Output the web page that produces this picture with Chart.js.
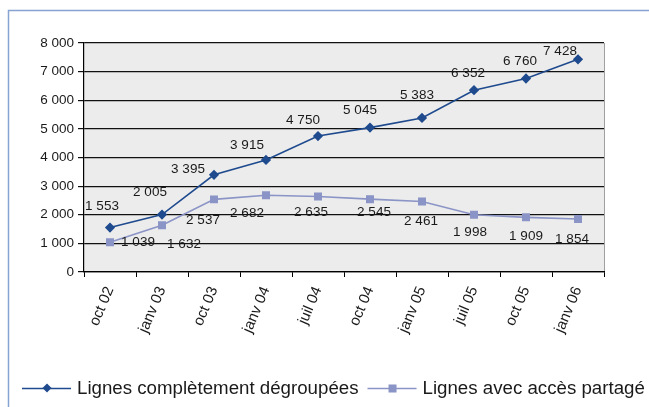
<!DOCTYPE html>
<html>
<head>
<meta charset="utf-8">
<script src="https://cdn.jsdelivr.net/npm/chart.js@4/dist/chart.umd.min.js"></script>
<style>
html,body{margin:0;padding:0;background:#fff;}
#wrap{position:relative;width:649px;height:407px;}
</style>
</head>
<body>
<div id="wrap"><canvas id="c" width="649" height="407"></canvas></div>
<script>
const categories = ['oct 02','janv 03','oct 03','janv 04','juil 04','oct 04','janv 05','juil 05','oct 05','janv 06'];
const degroupees = [1553, 2005, 3395, 3915, 4750, 5045, 5383, 6352, 6760, 7428];
const partage = [1039, 1632, 2537, 2682, 2635, 2545, 2461, 1998, 1909, 1854];
const yTicks = [0, 1000, 2000, 3000, 4000, 5000, 6000, 7000, 8000];
const seriesNames = ['Lignes complètement dégroupées', 'Lignes avec accès partagé'];

// label placement relative to each point (pixels)
const labelOffsets = [
  [[-8,-21],[-12,-22],[-26,-6],[-19,-15],[-15,-16],[-10,-17],[-5,-23],[-6,-17],[-6,-17],[-18,-8]],
  [[28,0],[22,19],[-11,21],[-19,18],[-7,16],[4,13],[-1,20],[-4,17],[0,19],[-6,20]]
];

const fmt = v => String(v).replace(/\B(?=(\d{3})+(?!\d))/g, ' ');
const FONT = '"Liberation Sans", Arial, sans-serif';
const C1 = '#1f4b8e';
const C2 = '#8a94c6';

const framePlugin = {
  id: 'frame',
  beforeDraw(chart) {
    const ctx = chart.ctx, a = chart.chartArea;
    ctx.save();
    ctx.fillStyle = '#fff';
    ctx.fillRect(0, 0, chart.width, chart.height);
    ctx.strokeStyle = '#86a3d2';
    ctx.lineWidth = 1.5;
    ctx.beginPath();
    ctx.moveTo(649, 10.5); ctx.lineTo(8.5, 10.5); ctx.lineTo(8.5, 407);
    ctx.stroke();
    ctx.fillStyle = '#ececec';
    ctx.fillRect(a.left, a.top, a.right - a.left, a.bottom - a.top);
    ctx.strokeStyle = '#a0a0a0';
    ctx.lineWidth = 1;
    ctx.beginPath();
    ctx.moveTo(a.right + 0.5, a.top); ctx.lineTo(a.right + 0.5, a.bottom);
    ctx.stroke();
    ctx.restore();
  },
  afterDatasetsDraw(chart) {
    const ctx = chart.ctx;
    ctx.save();
    ctx.font = '13.5px ' + FONT;
    ctx.fillStyle = '#1a1a1a';
    ctx.textAlign = 'center';
    ctx.textBaseline = 'middle';
    chart.data.datasets.forEach((ds, di) => {
      const meta = chart.getDatasetMeta(di);
      meta.data.forEach((pt, i) => {
        const o = labelOffsets[di][i];
        ctx.fillText(fmt(ds.data[i]), pt.x + o[0], pt.y + o[1]);
      });
    });
    ctx.restore();
  },
  afterDraw(chart) {
    const ctx = chart.ctx;
    ctx.save();
    ctx.font = '18.7px ' + FONT;
    ctx.fillStyle = '#1a1a1a';
    ctx.textBaseline = 'middle';
    const y = 388;
    let x = 22;
    const items = [
      {color: C1, style: 'diamond'},
      {color: C2, style: 'square'}
    ];
    items.forEach((it, i) => {
      ctx.strokeStyle = it.color;
      ctx.lineWidth = 1.5;
      ctx.beginPath(); ctx.moveTo(x, y + 0.5); ctx.lineTo(x + 49, y + 0.5); ctx.stroke();
      const cx = x + 25;
      ctx.fillStyle = it.color;
      if (it.style === 'diamond') {
        ctx.beginPath();
        ctx.moveTo(cx, y - 4.5); ctx.lineTo(cx + 4.5, y); ctx.lineTo(cx, y + 4.5); ctx.lineTo(cx - 4.5, y);
        ctx.closePath(); ctx.fill();
      } else {
        ctx.fillRect(cx - 4, y - 3.5, 8, 8);
      }
      x += 55;
      ctx.fillStyle = '#1a1a1a';
      ctx.fillText(seriesNames[i], x, y + 1);
      x += ctx.measureText(seriesNames[i]).width + 9;
    });
    ctx.restore();
  }
};

new Chart(document.getElementById('c'), {
  type: 'line',
  data: {
    labels: categories,
    datasets: [
      {
        label: seriesNames[0], data: degroupees,
        borderColor: C1, backgroundColor: C1, borderWidth: 1.6,
        pointStyle: 'rectRot', pointRadius: 4, pointHoverRadius: 4,
        tension: 0
      },
      {
        label: seriesNames[1], data: partage,
        borderColor: C2, backgroundColor: C2, borderWidth: 1.6,
        pointStyle: 'rect', pointRadius: 4.5, pointHoverRadius: 4.5,
        tension: 0
      }
    ]
  },
  options: {
    responsive: false,
    animation: false,
    events: [],
    layout: { padding: { left: 0, right: 45, top: 43, bottom: 0 } },
    plugins: { legend: { display: false }, tooltip: { enabled: false } },
    scales: {
      x: {
        offset: true,
        grid: { offset: true, drawOnChartArea: false, drawTicks: true, tickLength: 5, color: '#000', lineWidth: 1 },
        border: { color: '#000', width: 1.2 },
        ticks: {
          minRotation: 67, maxRotation: 67, padding: 7,
          color: '#1a1a1a', font: { family: FONT, size: 15 }
        },
        afterFit(s) { s.height = 135; s.paddingLeft = 0; s.paddingRight = 0; }
      },
      y: {
        min: 0, max: 8000,
        afterBuildTicks(s) { s.ticks = yTicks.map(v => ({ value: v })); },
        grid: { color: '#111', lineWidth: 1.2, tickLength: 6, drawTicks: true },
        border: { color: '#000', width: 1.2 },
        ticks: {
          padding: 4, color: '#1a1a1a', font: { family: FONT, size: 13.5 },
          callback: v => fmt(v)
        },
        afterFit(s) { s.width = 84; s.paddingTop = 0; s.paddingBottom = 0; }
      }
    }
  },
  plugins: [framePlugin]
});
</script>
</body>
</html>
